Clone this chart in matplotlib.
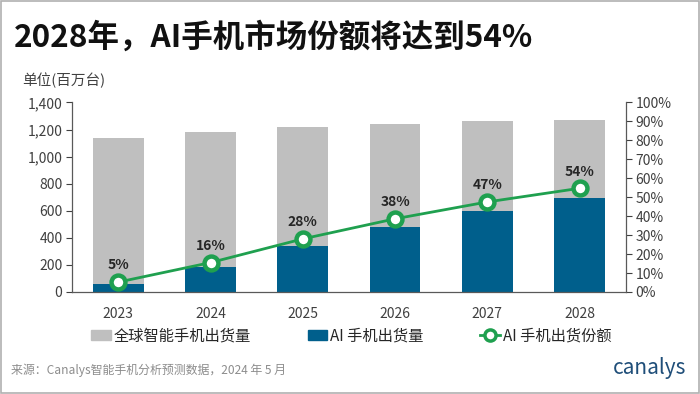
import numpy as np
import matplotlib
matplotlib.use('Agg')
from matplotlib import pyplot as plt
from matplotlib.lines import Line2D
from matplotlib.patches import Patch, Rectangle

plt.rcParams['font.family'] = ['Noto Sans CJK SC', 'DejaVu Sans']

# data (百万台)
years = ['2023', '2024', '2025', '2026', '2027', '2028']
total_shipments = [1137, 1178, 1215, 1243, 1260, 1272]
ai_shipments = [59, 182, 340, 480, 598, 696]
ai_share = [5.2, 15.5, 28.0, 38.6, 47.5, 54.7]
share_labels = ['5%', '16%', '28%', '38%', '47%', '54%']

grey = '#bfbfbf'
blue = '#005f8c'
green = '#1fa04f'
txt = '#404040'

fig = plt.figure(figsize=(7, 3.94), dpi=100)
ax = fig.add_axes([0.103, 0.259, 0.791, 0.481])

x = np.arange(len(years))
ax.bar(x, total_shipments, width=0.55, color=grey, zorder=1)
ax.bar(x, ai_shipments, width=0.55, color=blue, zorder=2)

ax.set_xlim(-0.5, len(years) - 0.5)
ax.set_ylim(0, 1400)
ax.set_yticks(range(0, 1401, 200))
ax.set_yticklabels([f'{v:,}' for v in range(0, 1401, 200)])
ax.set_xticks(x)
ax.set_xticklabels(years)
ax.tick_params(axis='x', length=0, pad=11, labelsize=10, colors=txt)
ax.tick_params(axis='y', length=4, width=0.8, pad=3, labelsize=10,
               colors=txt, direction='out')
for s in ['top', 'right']:
    ax.spines[s].set_visible(False)
for s in ['left', 'bottom']:
    ax.spines[s].set_color('#595959')
    ax.spines[s].set_linewidth(0.9)

ax2 = ax.twinx()
ax2.set_ylim(0, 100)
ax2.set_yticks(range(0, 101, 10))
ax2.set_yticklabels([f'{v}%' for v in range(0, 101, 10)])
ax2.tick_params(axis='y', length=4, width=0.8, pad=3, labelsize=10,
                colors=txt, direction='out')
for s in ['top', 'left', 'bottom']:
    ax2.spines[s].set_visible(False)
ax2.spines['right'].set_color('#595959')
ax2.spines['right'].set_linewidth(0.9)

ax2.plot(x, ai_share, color=green, lw=2, marker='o', ms=10,
         mfc='white', mec=green, mew=3.2, zorder=5)
for xi, v, lab in zip(x, ai_share, share_labels):
    ax2.annotate(lab, (xi, v), xytext=(0, 7), textcoords='offset points',
                 ha='center', va='bottom', fontsize=10, fontweight='bold',
                 color='#262626')

# title and notes
fig.text(0.02, 0.905, '2028年，AI手机市场份额将达到54%', fontsize=22.7,
         fontweight='bold', color='#111111', va='center', ha='left')
fig.text(0.031, 0.797, '单位(百万台)', fontsize=10.5, color=txt,
         va='center', ha='left')
fig.text(0.016, 0.06, '来源：Canalys智能手机分析预测数据，2024 年 5 月',
         fontsize=8.6, color='#8c8c8c', va='center', ha='left')
fig.text(0.98, 0.065, 'canalys', fontsize=15, color='#1f4e79',
         va='center', ha='right')

# legend
handles = [Patch(color=grey), Patch(color=blue),
           Line2D([0], [0], color=green, lw=2, marker='o', ms=8,
                  mfc='white', mec=green, mew=2.5)]
labels = ['全球智能手机出货量', 'AI 手机出货量', 'AI 手机出货份额']
fig.legend(handles, labels, loc='center', bbox_to_anchor=(0.502, 0.148),
           ncol=3, frameon=False, fontsize=11, handlelength=1.3,
           handleheight=0.6, handletextpad=0.2, columnspacing=3.7,
           labelcolor='#262626')

fig.patches.append(Rectangle((0.001, 0.002), 0.997, 0.995,
                             transform=fig.transFigure, fill=False,
                             edgecolor='#b0b0b0', lw=1.2))

fig.savefig('out.png', dpi=100)
